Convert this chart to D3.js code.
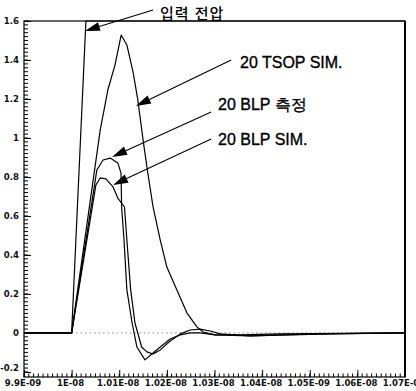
<!DOCTYPE html>
<html lang="ko">
<head>
<meta charset="utf-8">
<style>
  body { margin: 0; background: #fff; }
  svg { display: block; }
  .tick-label { font-family: "Liberation Sans Narrow", "DejaVu Sans Condensed", sans-serif; font-stretch: condensed; font-weight: bold; font-size: 9.5px; fill: #111; }
  .note { font-family: "Liberation Sans", Arial, sans-serif; font-size: 16px; fill: #000; stroke: #000; stroke-width: 0.35; }
  .note-kr { font-family: "Noto Sans CJK KR", sans-serif; font-weight: 500; font-size: 15px; fill: #000; }
</style>
</head>
<body>
<script src="https://d3js.org/d3.v7.min.js"></script>
<script>
// time in ns, voltage in V
var inputVoltage = [[9.9, 0], [10.0, 0], [10.03, 1.6], [10.7, 1.6]];

var tsopSim = [[9.9, 0], [10.0, 0], [10.06, 1.04], [10.076, 1.246], [10.091, 1.374],
  [10.104, 1.528], [10.116, 1.477], [10.129, 1.338], [10.139, 1.195], [10.15, 0.99],
  [10.16, 0.82], [10.171, 0.646], [10.186, 0.477], [10.2, 0.338], [10.221, 0.22],
  [10.242, 0.103], [10.263, 0.031], [10.276, 0.005], [10.301, -0.01], [10.354, -0.01],
  [10.438, -0.005], [10.7, 0]];

var blpMeas = [[9.9, 0], [10.0, 0], [10.053, 0.836], [10.066, 0.887], [10.081, 0.897],
  [10.097, 0.872], [10.1037, 0.82], [10.105, 0.646], [10.11, 0.477], [10.116, 0.221],
  [10.127, 0.051], [10.137, -0.072], [10.154, -0.138], [10.171, -0.103], [10.186, -0.072],
  [10.207, -0.031], [10.228, -0.01], [10.249, 0], [10.27, 0], [10.301, -0.01],
  [10.375, -0.015], [10.459, -0.01], [10.543, -0.005], [10.7, 0]];

var blpSim = [[9.9, 0], [10.0, 0], [10.051, 0.759], [10.06, 0.795], [10.072, 0.79],
  [10.087, 0.749], [10.097, 0.692], [10.111, 0.646], [10.116, 0.477], [10.124, 0.221],
  [10.133, 0.051], [10.147, -0.072], [10.158, -0.097], [10.171, -0.108], [10.186, -0.087],
  [10.207, -0.041], [10.228, -0.005], [10.249, 0.015], [10.27, 0.02], [10.291, 0.01],
  [10.312, -0.005], [10.375, -0.015], [10.438, -0.01], [10.522, -0.005], [10.7, 0]];

var xTicks = [9.9, 10.0, 10.1, 10.2, 10.3, 10.4, 10.5, 10.6, 10.7];
var xTickLabels = ["9.9E-09", "1E-08", "1.01E-08", "1.02E-08", "1.03E-08", "1.04E-08", "1.05E-09", "1.06E-08", "1.07E-08"];
var yTicks = [-0.2, 0, 0.2, 0.4, 0.6, 0.8, 1, 1.2, 1.4, 1.6];
var yTickLabels = ["-0.2", "0", "0.2", "0.4", "0.6", "0.8", "1", "1.2", "1.4", "1.6"];

// annotation arrows: tip and tail in data units
var notes = [
  { text: "입력 전압", kr: true, tip: [10.028, 1.549], tail: [10.171, 1.656], tx: 160, ty: 19 },
  { text: "20 TSOP SIM.", tip: [10.135, 1.164], tail: [10.335, 1.40], tx: 240, ty: 68 },
  { text: "20 BLP 측정", tip: [10.085, 0.903], tail: [10.293, 1.133], tx: 218, ty: 110 },
  { text: "20 BLP SIM.", tip: [10.087, 0.759], tail: [10.293, 0.995], tx: 218, ty: 145 }
];

var width = 416, height = 391;
var plotLeft = 24, plotRight = 405, plotTop = 21, plotBottom = 377;

var svg = d3.select("body").append("svg")
  .attr("width", width)
  .attr("height", height);

var x = d3.scaleLinear().domain([9.9, 10.7]).range([plotLeft, plotRight]);
var y = d3.scaleLinear().domain([-0.226, 1.6]).range([plotBottom, plotTop]);

// dotted zero line
svg.append("line")
  .attr("x1", x(10.0)).attr("x2", plotRight)
  .attr("y1", y(0)).attr("y2", y(0))
  .attr("stroke", "#888").attr("stroke-width", 1)
  .attr("stroke-dasharray", "1.5,3");

// minor ticks
var xMinor = d3.range(0, 81).map(function (i) { return 9.9 + i * 0.01; });
var yMinor = d3.range(0, 91).map(function (i) { return -0.2 + i * 0.02; });

svg.append("g").selectAll("line").data(xMinor).join("line")
  .attr("x1", function (d) { return x(d); })
  .attr("x2", function (d) { return x(d); })
  .attr("y1", plotBottom).attr("y2", plotBottom - 3.5)
  .attr("stroke", "#000").attr("stroke-width", 1);

svg.append("g").selectAll("line").data(yMinor).join("line")
  .attr("x1", plotLeft).attr("x2", plotLeft + 4)
  .attr("y1", function (d) { return y(d); })
  .attr("y2", function (d) { return y(d); })
  .attr("stroke", "#000").attr("stroke-width", 1);

// axes with major ticks pointing inward
svg.append("g")
  .attr("transform", "translate(0," + plotBottom + ")")
  .call(d3.axisTop(x).tickValues(xTicks).tickSize(7).tickFormat(function () { return ""; }))
  .call(function (g) { g.select(".domain").remove(); });

svg.append("g")
  .attr("transform", "translate(" + plotLeft + ",0)")
  .call(d3.axisRight(y).tickValues(yTicks).tickSize(7).tickFormat(function () { return ""; }))
  .call(function (g) { g.select(".domain").remove(); });

svg.append("g").selectAll("text").data(xTicks).join("text")
  .attr("class", "tick-label")
  .attr("x", function (d) { return x(d) - 1; })
  .attr("y", plotBottom + 9)
  .attr("text-anchor", "middle")
  .text(function (d, i) { return xTickLabels[i]; });

svg.append("g").selectAll("text").data(yTicks).join("text")
  .attr("class", "tick-label")
  .attr("x", plotLeft - 5)
  .attr("y", function (d) { return (d === -0.2 ? y(d) - 4 : y(d)) + 3; })
  .attr("text-anchor", "end")
  .text(function (d, i) { return yTickLabels[i]; });

// frame
svg.append("rect")
  .attr("x", plotLeft).attr("y", plotTop)
  .attr("width", plotRight - plotLeft).attr("height", plotBottom - plotTop)
  .attr("fill", "none").attr("stroke", "#000").attr("stroke-width", 1.2);
svg.append("line")
  .attr("x1", plotRight).attr("x2", plotRight).attr("y1", plotTop).attr("y2", plotBottom)
  .attr("stroke", "#000").attr("stroke-width", 2);

// curves
var line = d3.line()
  .x(function (d) { return x(d[0]); })
  .y(function (d) { return y(d[1]); });

[inputVoltage, tsopSim, blpMeas, blpSim].forEach(function (s) {
  svg.append("path")
    .datum(s)
    .attr("d", line)
    .attr("fill", "none")
    .attr("stroke", "#000")
    .attr("stroke-width", 1.2)
    .attr("stroke-linejoin", "round");
});

// annotations
notes.forEach(function (n) {
  var x1 = x(n.tail[0]), y1 = y(n.tail[1]);
  var x2 = x(n.tip[0]), y2 = y(n.tip[1]);
  var a = Math.atan2(y2 - y1, x2 - x1);
  var len = 15, hw = 4.5;
  var bx = x2 - len * Math.cos(a), by = y2 - len * Math.sin(a);
  svg.append("line")
    .attr("x1", x1).attr("y1", y1).attr("x2", bx).attr("y2", by)
    .attr("stroke", "#000").attr("stroke-width", 1.1);
  svg.append("path")
    .attr("d", "M" + x2 + "," + y2 +
      "L" + (bx + hw * Math.sin(a)) + "," + (by - hw * Math.cos(a)) +
      "L" + (bx - hw * Math.sin(a)) + "," + (by + hw * Math.cos(a)) + "Z")
    .attr("fill", "#000");
  svg.append("text")
    .attr("class", n.kr ? "note-kr" : "note")
    .attr("x", n.tx).attr("y", n.ty)
    .attr("letter-spacing", n.kr ? 1 : 0)
    .text(n.text);
});
</script>
</body>
</html>
